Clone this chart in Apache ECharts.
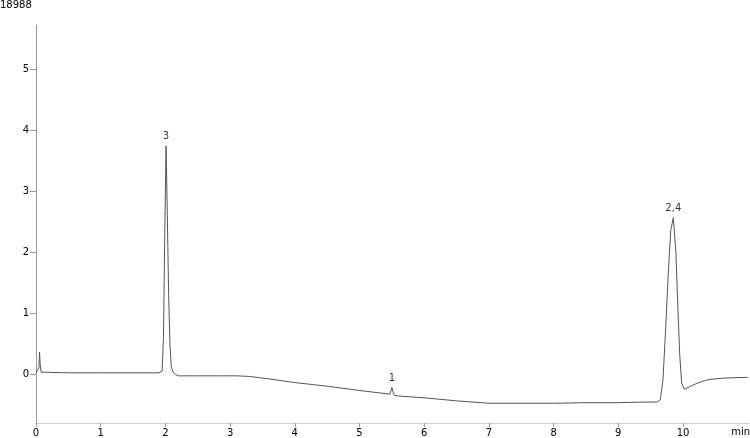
<!DOCTYPE html>
<html>
<head>
<meta charset="utf-8">
<script src="https://cdn.jsdelivr.net/npm/echarts@6/dist/echarts.min.js"></script>
<style>html,body{margin:0;padding:0;background:#fff;}#c{width:750px;height:438px;}</style>
</head>
<body>
<div id="c"></div>
<script>
// retention time (min)
var times = [0, 0.03, 0.045, 0.055, 0.065, 0.08, 0.1, 0.5, 1.0, 1.5, 1.9, 1.95, 1.97, 1.99, 2.01, 2.03, 2.05, 2.07, 2.09, 2.12, 2.16, 2.2, 2.5, 2.8, 3.1, 3.3, 3.6, 4.0, 4.5, 5.0, 5.47, 5.50, 5.52, 5.54, 5.6, 6.0, 6.5, 7.0, 7.5, 8.0, 8.5, 9.0, 9.4, 9.6, 9.65, 9.69, 9.73, 9.77, 9.81, 9.85, 9.89, 9.92, 9.95, 9.98, 10.02, 10.1, 10.2, 10.3, 10.4, 10.6, 10.8, 11.0];
// signal
var signal = [0.02, 0.02, 0.1, 0.36, 0.15, 0.03, 0.02, 0.02, 0.02, 0.02, 0.02, 0.05, 0.6, 2.3, 3.74, 2.6, 1.3, 0.5, 0.12, 0.03, -0.01, -0.03, -0.03, -0.03, -0.03, -0.04, -0.08, -0.14, -0.2, -0.27, -0.33, -0.22, -0.3, -0.35, -0.36, -0.39, -0.44, -0.48, -0.48, -0.48, -0.47, -0.47, -0.46, -0.46, -0.42, -0.1, 0.7, 1.6, 2.35, 2.56, 2.0, 1.1, 0.3, -0.15, -0.25, -0.21, -0.16, -0.12, -0.09, -0.07, -0.06, -0.055];
// peak labels
var peakNames = ['3', '1', '2,4'];
var peakTimes = [2.01, 5.50, 9.85];
var peakValues = [3.74, -0.22, 2.56];
var xTicks = [0, 1, 2, 3, 4, 5, 6, 7, 8, 9, 10];
var yTicks = [0, 1, 2, 3, 4, 5];
var scaleLabel = '18988';
var xUnit = 'min';

var lineData = times.map(function (t, i) { return [t, signal[i]]; });
var peakData = peakNames.map(function (n, i) { return { value: [peakTimes[i], peakValues[i]], name: n }; });

var font = 'DejaVu Sans';
var chart = echarts.init(document.getElementById('c'), null, { renderer: 'canvas' });
chart.setOption({
  animation: false,
  backgroundColor: '#fff',
  grid: { left: 36, right: 1, top: 25, bottom: 15, containLabel: false },
  xAxis: {
    type: 'value', min: 0, max: 11.02,
    axisLine: { show: true, onZero: false, lineStyle: { color: '#cfcfcf', width: 1 } },
    axisTick: { show: true, length: 4, lineStyle: { color: '#999' }, customValues: xTicks },
    axisLabel: { customValues: xTicks, color: '#000', fontFamily: font, fontSize: 10, margin: 5 },
    splitLine: { show: false }
  },
  yAxis: {
    type: 'value', min: -0.803, max: 5.72,
    axisLine: { show: true, onZero: false, lineStyle: { color: '#999', width: 1 } },
    axisTick: { show: true, length: 6, lineStyle: { color: '#999' }, customValues: yTicks },
    axisLabel: { customValues: yTicks, color: '#000', fontFamily: font, fontSize: 10, margin: 7 },
    splitLine: { show: false }
  },
  graphic: [
    { type: 'text', left: 0, top: 0, style: { text: scaleLabel, fill: '#000', font: '10px "DejaVu Sans"' } },
    { type: 'text', right: 0, top: 427, style: { text: xUnit, fill: '#000', font: '10px "DejaVu Sans"' } }
  ],
  series: [
    {
      type: 'line', data: lineData, showSymbol: false, smooth: false,
      lineStyle: { color: '#555', width: 1 }, silent: true
    },
    {
      type: 'scatter', data: peakData, symbolSize: 0, silent: true,
      label: { show: true, position: 'top', distance: 4, formatter: '{b}', color: '#000', fontFamily: font, fontSize: 10 }
    }
  ]
});
</script>
</body>
</html>
